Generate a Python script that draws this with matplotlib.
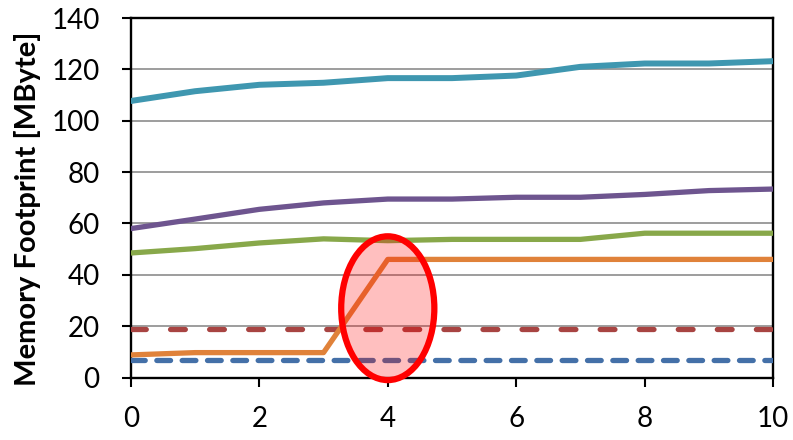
import matplotlib.pyplot as plt
from matplotlib.patches import Ellipse

plt.rcParams['font.family'] = ['Lato', 'DejaVu Sans']

# x positions and series values (MByte)
steps = [0, 1, 2, 3, 4, 5, 6, 7, 8, 9, 10]
teal = [107.7, 111.5, 114.0, 114.8, 116.6, 116.6, 117.6, 121.0, 122.3, 122.3, 123.2]
purple = [58.0, 61.7, 65.5, 68.0, 69.5, 69.5, 70.2, 70.2, 71.3, 72.8, 73.4]
green = [48.5, 50.2, 52.4, 54.0, 53.3, 53.8, 53.8, 53.8, 56.2, 56.2, 56.2]
orange = [8.8, 9.7, 9.7, 9.7, 46.0, 46.0, 46.0, 46.0, 46.0, 46.0, 46.0]
red = [19, 19, 19, 19, 19, 19, 19, 19, 19, 19, 19]
blue = [7, 7, 7, 7, 7, 7, 7, 7, 7, 7, 7]

# highlight ellipse (data coords)
ell_center = (4, 27)
ell_width = 1.45
ell_height = 56

fig = plt.figure(figsize=(7.93, 4.40), dpi=100)
ax = fig.add_axes([0.165, 0.142, 0.810, 0.817])

# dashed lines
ax.plot(steps, blue, color='#4470A8', lw=3.8, dashes=(2.6, 2.2),
        dash_capstyle='round', zorder=3)
ax.plot(steps, red, color='#A84442', lw=3.8, dashes=(2.8, 4.6),
        dash_capstyle='round', zorder=3)

# solid lines
ax.plot(steps, orange, color='#E0823A', lw=3.8, zorder=4)
ax.plot(steps, green, color='#88A84A', lw=3.8, zorder=4)
ax.plot(steps, purple, color='#6E558F', lw=3.8, zorder=4)
ax.plot(steps, teal, color='#3F97B0', lw=4.3, zorder=4)

# red ellipse on top
ax.add_patch(Ellipse(ell_center, ell_width, ell_height,
                     facecolor=(1, 0, 0, 0.25), edgecolor='#FF0000',
                     lw=4.5, zorder=6, clip_on=False))

ax.set_xlim(0, 10)
ax.set_ylim(0, 140)
ax.set_xticks([0, 2, 4, 6, 8, 10])
ax.set_yticks(range(0, 141, 20))
ax.yaxis.grid(True, color='#8C8C8C', lw=1.2)
ax.set_axisbelow(True)

for s in ax.spines.values():
    s.set_linewidth(1.7)
    s.set_color('black')

ax.tick_params(direction='out', length=6.5, width=1.5, labelsize=20)
ax.tick_params(axis='y', pad=16)
ax.tick_params(axis='x', pad=14)
ax.set_ylabel('Memory Footprint [MByte]', fontsize=21, fontweight='bold')
ax.yaxis.set_label_coords(-0.140, 0.469)

fig.savefig('out.png', dpi=100)
